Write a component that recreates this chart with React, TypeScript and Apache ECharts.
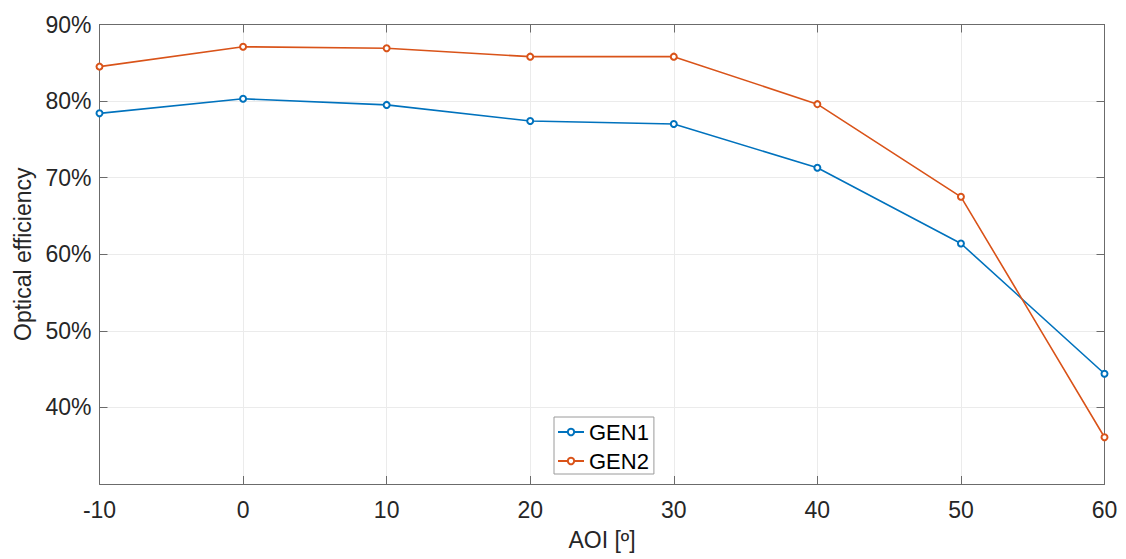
import React, { useEffect, useRef } from "react";
import * as echarts from "echarts";

const aoi = [-10, 0, 10, 20, 30, 40, 50, 60];
const gen1 = [78.4, 80.3, 79.5, 77.4, 77.0, 71.3, 61.4, 44.4];
const gen2 = [84.5, 87.1, 86.9, 85.8, 85.8, 79.6, 67.5, 36.1];
const seriesNames = ["GEN1", "GEN2"];
const xTitle = "AOI [º]";
const yTitle = "Optical efficiency";

const FONT = "Liberation Sans, Arial, Helvetica, sans-serif";
const TXT = "#262626";
const AXC = "#6b6b6b";

export default function App() {
  const ref = useRef<HTMLDivElement>(null);
  useEffect(() => {
    if (!ref.current) return;
    const chart = echarts.init(ref.current, undefined, { renderer: "svg" });
    const mk = (name: string, ys: number[], color: string) => ({
      name,
      type: "line",
      data: aoi.map((x, i) => [x, ys[i]]),
      symbol: "emptyCircle",
      symbolSize: 6,
      lineStyle: { color, width: 1.6 },
      itemStyle: { color, borderWidth: 1.5 },
      z: 3,
    });
    const tick = { show: true, inside: true, length: 8, lineStyle: { color: AXC } };
    const line = { show: true, onZero: false, lineStyle: { color: AXC, width: 1 } };
    chart.setOption({
      animation: false,
      textStyle: { fontFamily: FONT },
      grid: { left: 99.5, right: 21.5, top: 24.5, bottom: 75, containLabel: false },
      legend: {
        orient: "vertical",
        left: 554,
        top: 417,
        padding: [4, 5, 2, 3],
        itemGap: 7,
        itemWidth: 26,
        itemHeight: 8,
        backgroundColor: "#fff",
        borderColor: "#9a9a9a",
        borderWidth: 1,
        borderRadius: 0,
        data: seriesNames,
        textStyle: { fontSize: 22, color: "#000", fontFamily: FONT },
      },
      xAxis: [
        {
          type: "value",
          min: -10,
          max: 60,
          interval: 10,
          name: xTitle,
          nameLocation: "middle",
          nameGap: 44,
          nameTextStyle: { fontSize: 23, color: TXT, fontFamily: FONT },
          axisLine: line,
          axisTick: tick,
          axisLabel: { fontSize: 23, color: TXT, margin: 14, fontFamily: FONT },
          splitLine: { show: true, lineStyle: { color: "#ebebeb", width: 1 } },
        },
        {
          type: "value",
          position: "top",
          min: -10,
          max: 60,
          interval: 10,
          axisLine: line,
          axisTick: tick,
          axisLabel: { show: false },
          splitLine: { show: false },
        },
      ],
      yAxis: [
        {
          type: "value",
          min: 30,
          max: 90,
          interval: 10,
          name: yTitle,
          nameLocation: "middle",
          nameGap: 60,
          nameTextStyle: { fontSize: 23, color: TXT, fontFamily: FONT },
          axisLine: line,
          axisTick: tick,
          axisLabel: {
            fontSize: 23,
            color: TXT,
            margin: 8,
            showMinLabel: false,
            fontFamily: FONT,
            formatter: "{value}%",
          },
          splitLine: { show: true, lineStyle: { color: "#ebebeb", width: 1 } },
        },
        {
          type: "value",
          position: "right",
          min: 30,
          max: 90,
          interval: 10,
          axisLine: line,
          axisTick: tick,
          axisLabel: { show: false },
          splitLine: { show: false },
        },
      ],
      series: [mk(seriesNames[0], gen1, "#0072BD"), mk(seriesNames[1], gen2, "#D95319")],
    });
    return () => chart.dispose();
  }, []);
  return (
    <div
      ref={ref}
      style={{ position: "fixed", left: 0, top: 0, width: 1126, height: 559, background: "#fff" }}
    />
  );
}
